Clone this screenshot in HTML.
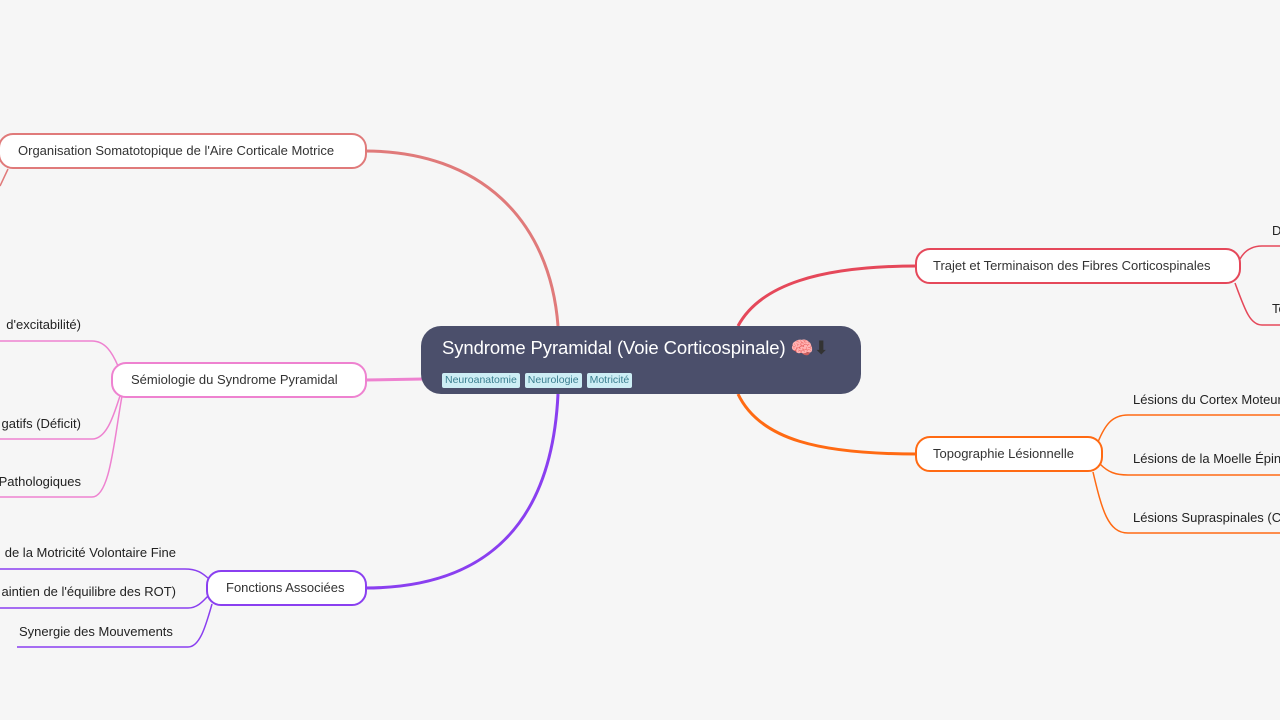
<!DOCTYPE html>
<html><head><meta charset="utf-8"><style>
body{margin:0;width:1280px;height:720px;background:#f6f6f6;position:relative;overflow:hidden;font-family:"Liberation Sans",sans-serif;}
.n{position:absolute;box-sizing:border-box;background:#fff;border:2px solid;border-radius:15px;height:36px;font-size:13px;color:#333;line-height:32px;padding-left:16px;white-space:nowrap;letter-spacing:0}
.t{position:absolute;font-size:13px;color:#222;white-space:nowrap;letter-spacing:0}
.tag{display:inline-block;background:#cdeef5;color:#3a7f90;font-size:10.5px;padding:1px 3px;border-radius:2px;margin-right:5px;line-height:13px}
</style></head><body>
<svg width="1280" height="720" style="position:absolute;left:0;top:0" fill="none">
<g stroke-width="3">
<path d="M558 326 C550 220 480 151 365 151" stroke="#e07a7a"/>
<path d="M423 379 L365 380" stroke="#ee82d0"/>
<path d="M558 394 C552 520 490 588 365 588" stroke="#8a3ff0"/>
<path d="M738 326 C760 285 820 266 917 266" stroke="#e5485a"/>
<path d="M738 394 C760 440 820 454 917 454" stroke="#ff6a13"/>
</g>
<g stroke-width="1.5">
<path d="M8 169 L0 186" stroke="#e07a7a"/>
<path d="M0 341 L92 341 C105 341 112 352 118 366" stroke="#ee82d0"/>
<path d="M0 439 L92 439 C108 439 115 410 120 396" stroke="#ee82d0"/>
<path d="M0 497 L92 497 C110 497 114 440 122 396" stroke="#ee82d0"/>
<path d="M0 569 L185 569 C198 569 203 574 208 578" stroke="#8a3ff0"/>
<path d="M0 608 L188 608 C198 608 204 600 208 596" stroke="#8a3ff0"/>
<path d="M17 647 L188 647 C200 647 206 625 212 604" stroke="#8a3ff0"/>
<path d="M1240 259 C1245 250 1252 246 1262 246 L1280 246" stroke="#e5485a"/>
<path d="M1235 283 C1245 310 1250 325 1262 325 L1280 325" stroke="#e5485a"/>
<path d="M1098 442 C1105 425 1112 415 1128 415 L1280 415" stroke="#ff6a13"/>
<path d="M1100 464 C1108 472 1115 475 1128 475 L1280 475" stroke="#ff6a13"/>
<path d="M1093 472 C1102 510 1108 533 1128 533 L1280 533" stroke="#ff6a13"/>
</g>
</svg>
<div style="position:absolute;left:421px;top:326px;width:440px;height:68px;background:#4b4f6b;border-radius:20px">
<div style="position:absolute;left:21px;top:11px;color:#fff;font-size:18.5px;white-space:nowrap;letter-spacing:-0.1px">Syndrome Pyramidal (Voie Corticospinale) <span style="color:#f4a0a8">🧠</span><span style="color:#333">⬇</span></div>
<div style="position:absolute;left:21px;top:44px;white-space:nowrap"><span class="tag">Neuroanatomie</span><span class="tag">Neurologie</span><span class="tag">Motricité</span></div>
</div>
<div class="n" style="left:-2px;top:133px;width:369px;border-color:#e07a7a;padding-left:18px">Organisation Somatotopique de l'Aire Corticale Motrice</div>
<div class="n" style="left:111px;top:362px;width:256px;border-color:#ee82d0;padding-left:18px">Sémiologie du Syndrome Pyramidal</div>
<div class="n" style="left:206px;top:570px;width:161px;border-color:#8a3ff0;padding-left:18px">Fonctions Associées</div>
<div class="n" style="left:915px;top:248px;width:326px;border-color:#e5485a">Trajet et Terminaison des Fibres Corticospinales</div>
<div class="n" style="left:915px;top:436px;width:188px;border-color:#ff6a13">Topographie Lésionnelle</div>
<div class="t" style="right:1199px;top:317px">d'excitabilité)</div>
<div class="t" style="right:1199px;top:416px">gatifs (Déficit)</div>
<div class="t" style="right:1199px;top:474px">Pathologiques</div>
<div class="t" style="right:1104px;top:545px">de la Motricité Volontaire Fine</div>
<div class="t" style="right:1104px;top:584px">aintien de l'équilibre des ROT)</div>
<div class="t" style="left:19px;top:624px">Synergie des Mouvements</div>
<div class="t" style="left:1272px;top:223px">D</div>
<div class="t" style="left:1272px;top:301px">Te</div>
<div class="t" style="left:1133px;top:392px">Lésions du Cortex Moteur</div>
<div class="t" style="left:1133px;top:451px">Lésions de la Moelle Épinière</div>
<div class="t" style="left:1133px;top:510px">Lésions Supraspinales (C</div>
</body></html>
